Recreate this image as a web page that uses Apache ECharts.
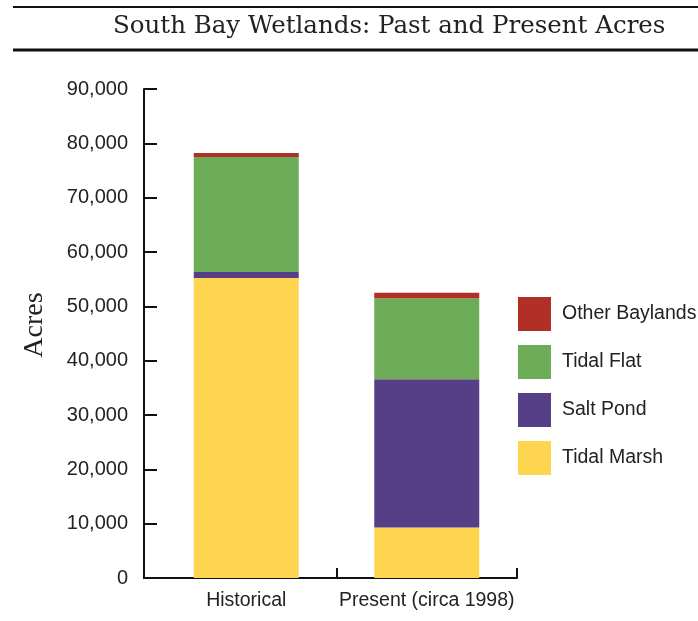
<!DOCTYPE html>
<html>
<head>
<meta charset="utf-8">
<script src="https://cdn.jsdelivr.net/npm/echarts@6/dist/echarts.min.js"></script>
<style>
html,body{margin:0;padding:0;background:#fff;}
#chart{width:698px;height:621px;}
</style>
</head>
<body>
<div id="chart"></div>
<script>
const titleText = "South Bay Wetlands: Past and Present Acres";
const yAxisTitle = "Acres";
const categories = ["Historical", "Present (circa 1998)"];
const tidalMarsh = [55200, 9300];
const saltPond = [1100, 27300];
const tidalFlat = [21200, 14900];
const otherBaylands = [700, 1000];
const yTicks = [0, 10000, 20000, 30000, 40000, 50000, 60000, 70000, 80000, 90000];

const colors = {
  marsh: "#FED54F",
  salt: "#563F87",
  flat: "#6DAC57",
  other: "#B12F27"
};

const chart = echarts.init(document.getElementById("chart"), null, {renderer: "canvas"});

function fmt(v) { return v.toString().replace(/\B(?=(\d{3})+(?!\d))/g, ","); }

// category boundary ticks (between categories and at the end), in band units
const boundaryTicks = categories.map(function (c, i) { return i + 0.5; });

const barW = 105;
function mk(name, data, color) {
  return {
    name: name, type: "bar", stack: "total", data: data, barWidth: barW,
    xAxisIndex: 0,
    itemStyle: {color: color},
    emphasis: {disabled: true}
  };
}

chart.setOption({
  animation: false,
  backgroundColor: "#fff",
  grid: {left: 156, right: 181, top: 89, bottom: 43, containLabel: false},
  graphic: [
    {type: "line", shape: {x1: 13, y1: 7, x2: 698, y2: 7}, style: {stroke: "#111", lineWidth: 2}},
    {type: "line", shape: {x1: 13, y1: 50, x2: 698, y2: 50}, style: {stroke: "#111", lineWidth: 3}},
    {type: "line", shape: {x1: 143, y1: 578, x2: 157, y2: 578}, style: {stroke: "#111", lineWidth: 2}},
    {type: "text", left: 113, top: 14, style: {text: titleText, font: "24.5px 'DejaVu Serif'", fill: "#222"}},
    {type: "text", x: 35, y: 325, rotation: Math.PI / 2,
      style: {text: yAxisTitle, font: "28px 'Liberation Serif'", fill: "#222", align: "center", verticalAlign: "middle"}}
  ],
  legend: {
    orient: "vertical",
    left: 518, top: 297,
    padding: 0,
    itemWidth: 33, itemHeight: 34, itemGap: 14,
    icon: "rect",
    data: ["Other Baylands", "Tidal Flat", "Salt Pond", "Tidal Marsh"],
    textStyle: {fontFamily: "Liberation Sans", fontSize: 19.5, color: "#222", padding: [0, 0, 0, 6]},
    selectedMode: false
  },
  xAxis: [
    {
      type: "category",
      position: "bottom",
      data: categories,
      axisLine: {onZero: false, lineStyle: {color: "#111", width: 2}},
      axisTick: {show: false},
      axisLabel: {interval: 0, fontFamily: "Liberation Sans", fontSize: 19.5, color: "#222", margin: 13},
      splitLine: {show: false}
    },
    {
      type: "value",
      position: "bottom",
      min: -0.5, max: categories.length - 0.5,
      axisLine: {show: false, onZero: false},
      axisTick: {show: true, inside: true, length: 10, customValues: boundaryTicks,
        lineStyle: {color: "#111", width: 2}},
      axisLabel: {show: false},
      splitLine: {show: false}
    }
  ],
  yAxis: {
    type: "value",
    min: 0, max: 90000, interval: 10000,
    offset: 12,
    axisLine: {show: true, onZero: false, lineStyle: {color: "#111", width: 2}},
    axisTick: {show: true, inside: true, length: 13, lineStyle: {color: "#111", width: 2}},
    axisLabel: {fontFamily: "Liberation Sans", fontSize: 20, color: "#222", margin: 16,
      formatter: function (v) { return yTicks.indexOf(v) >= 0 ? fmt(v) : ""; }},
    splitLine: {show: false}
  },
  series: [
    mk("Tidal Marsh", tidalMarsh, colors.marsh),
    mk("Salt Pond", saltPond, colors.salt),
    mk("Tidal Flat", tidalFlat, colors.flat),
    mk("Other Baylands", otherBaylands, colors.other)
  ]
});
</script>
</body>
</html>
